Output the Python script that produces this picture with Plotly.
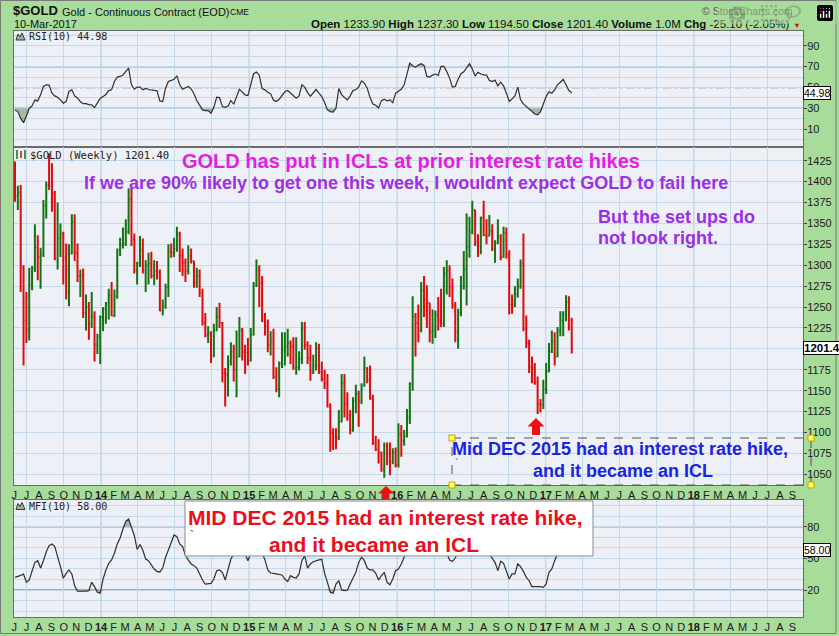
import plotly.graph_objects as go
import pandas as pd

# ---------------- data (weekly) ----------------
WEEK_START = "2013-06-03"

OPEN = [
    1411, 1383, 1387, 1297, 1234, 1223, 1277, 1296, 1322, 1310, 1313, 1372, 1396, 1395, 1387,
    1308, 1333, 1338, 1309, 1268, 1314, 1352, 1315, 1287, 1288, 1243, 1250, 1230, 1238, 1204,
    1215, 1238, 1247, 1254, 1264, 1240, 1263, 1318, 1324, 1326, 1340, 1379, 1331, 1294, 1303, 1318, 1294,
    1300, 1302, 1287, 1293, 1292, 1246, 1252, 1274, 1316, 1315, 1320, 1337, 1311, 1303, 1293, 1311, 1305, 1279,
    1287, 1267, 1231, 1216, 1218, 1192, 1222, 1238, 1231, 1171, 1169, 1185, 1197, 1175, 1191, 1222, 1196,
    1195, 1186, 1217, 1276, 1294, 1279, 1234, 1227, 1205, 1212, 1167, 1152, 1183, 1199, 1202, 1207, 1203,
    1177, 1178, 1188, 1225, 1205, 1189, 1173, 1180, 1201, 1173, 1164, 1159, 1131, 1099, 1095, 1094, 1113, 1159,
    1134, 1121, 1103, 1138, 1146, 1137, 1156, 1177, 1163, 1141, 1088, 1080, 1076, 1056, 1084, 1075, 1065,
    1076, 1061, 1098, 1090, 1096, 1118, 1158, 1239, 1231, 1222, 1270, 1259, 1255, 1220, 1222, 1240, 1235, 1230,
    1290, 1294, 1273, 1252, 1220, 1243, 1275, 1295, 1322, 1340, 1366, 1328, 1323, 1357, 1336, 1335, 1341,
    1320, 1327, 1334, 1310, 1339, 1313, 1253, 1251, 1266, 1275, 1302, 1224, 1207, 1178, 1177, 1160, 1134, 1133,
    1152, 1173, 1197, 1210, 1191, 1222, 1234, 1241, 1256, 1233.9,
]
HIGH = [
    1424, 1395, 1396, 1300, 1268, 1297, 1299, 1349, 1336, 1321, 1378, 1400, 1434, 1422, 1389,
    1375, 1350, 1340, 1326, 1325, 1361, 1361, 1326, 1295, 1296, 1265, 1256, 1268, 1245, 1218,
    1240, 1250, 1256, 1272, 1280, 1271, 1320, 1333, 1345, 1355, 1392, 1392, 1338, 1304, 1335, 1332, 1306,
    1315, 1316, 1306, 1305, 1295, 1259, 1278, 1325, 1326, 1333, 1346, 1340, 1320, 1308, 1324, 1320, 1305, 1297,
    1295, 1272, 1243, 1227, 1221, 1230, 1250, 1255, 1232, 1177, 1192, 1208, 1205, 1222, 1238, 1225, 1205,
    1213, 1225, 1280, 1307, 1300, 1287, 1243, 1235, 1221, 1224, 1178, 1185, 1220, 1220, 1224, 1210, 1214,
    1214, 1197, 1232, 1232, 1209, 1205, 1193, 1208, 1206, 1185, 1175, 1170, 1135, 1105, 1105, 1127, 1170, 1170,
    1148, 1127, 1142, 1157, 1150, 1159, 1191, 1178, 1180, 1145, 1096, 1092, 1077, 1088, 1088, 1088, 1081,
    1082, 1111, 1109, 1103, 1128, 1160, 1263, 1243, 1253, 1280, 1287, 1276, 1255, 1247, 1246, 1262, 1272, 1298,
    1306, 1300, 1284, 1256, 1248, 1287, 1317, 1362, 1358, 1377, 1366, 1337, 1358, 1377, 1355, 1360, 1349,
    1330, 1355, 1337, 1346, 1345, 1318, 1265, 1275, 1284, 1307, 1338, 1240, 1211, 1191, 1183, 1167, 1140, 1163,
    1183, 1207, 1222, 1220, 1226, 1245, 1245, 1264, 1263, 1237.3,
]
LOW = [
    1376, 1366, 1268, 1180, 1207, 1210, 1270, 1292, 1282, 1272, 1310, 1356, 1390, 1364, 1306,
    1295, 1310, 1277, 1259, 1251, 1313, 1305, 1280, 1262, 1237, 1222, 1211, 1225, 1185, 1194,
    1182, 1221, 1230, 1235, 1239, 1238, 1260, 1311, 1320, 1323, 1337, 1323, 1290, 1277, 1298, 1290, 1268,
    1277, 1284, 1276, 1283, 1245, 1240, 1248, 1262, 1309, 1310, 1316, 1292, 1287, 1280, 1289, 1302, 1273, 1273,
    1262, 1228, 1214, 1207, 1183, 1190, 1221, 1225, 1160, 1131, 1143, 1180, 1161, 1142, 1190, 1186, 1170,
    1180, 1185, 1216, 1274, 1250, 1232, 1216, 1196, 1192, 1164, 1148, 1142, 1177, 1180, 1191, 1182, 1175,
    1169, 1174, 1182, 1199, 1182, 1162, 1170, 1174, 1170, 1161, 1152, 1130, 1077, 1079, 1080, 1091, 1112, 1118,
    1114, 1098, 1101, 1123, 1107, 1134, 1155, 1159, 1139, 1085, 1078, 1063, 1053, 1046, 1061, 1049, 1062,
    1058, 1058, 1071, 1084, 1094, 1110, 1150, 1191, 1208, 1220, 1238, 1225, 1208, 1206, 1213, 1222, 1226, 1226,
    1265, 1262, 1248, 1208, 1200, 1239, 1271, 1252, 1309, 1337, 1323, 1310, 1313, 1335, 1325, 1335, 1317,
    1303, 1325, 1306, 1309, 1308, 1241, 1242, 1250, 1261, 1272, 1221, 1201, 1171, 1159, 1157, 1122, 1124, 1128,
    1146, 1172, 1195, 1180, 1190, 1215, 1215, 1233, 1222, 1194.5,
]
CLOSE = [
    1383, 1387, 1297, 1234, 1223, 1277, 1296, 1322, 1310, 1313, 1372, 1396, 1395, 1387, 1308,
    1333, 1338, 1309, 1268, 1314, 1352, 1315, 1287, 1288, 1243, 1250, 1230, 1238, 1204, 1215,
    1238, 1247, 1254, 1264, 1240, 1263, 1318, 1324, 1326, 1340, 1379, 1331, 1294, 1303, 1318, 1294, 1300,
    1302, 1287, 1293, 1292, 1246, 1252, 1274, 1316, 1315, 1320, 1337, 1311, 1303, 1293, 1311, 1305, 1279, 1287,
    1267, 1231, 1216, 1218, 1192, 1222, 1238, 1231, 1171, 1169, 1185, 1197, 1175, 1191, 1222, 1196, 1195,
    1186, 1217, 1276, 1294, 1279, 1234, 1227, 1205, 1212, 1167, 1152, 1183, 1199, 1202, 1207, 1203, 1177,
    1178, 1188, 1225, 1205, 1189, 1173, 1180, 1201, 1173, 1164, 1159, 1131, 1099, 1095, 1094, 1113, 1159, 1134,
    1121, 1103, 1138, 1146, 1137, 1156, 1177, 1163, 1141, 1088, 1080, 1076, 1056, 1084, 1075, 1065, 1076,
    1061, 1098, 1090, 1096, 1118, 1158, 1239, 1231, 1222, 1270, 1259, 1255, 1220, 1222, 1240, 1235, 1230, 1290,
    1294, 1273, 1252, 1220, 1243, 1275, 1295, 1322, 1340, 1366, 1328, 1323, 1357, 1336, 1335, 1341, 1320,
    1327, 1334, 1310, 1339, 1313, 1253, 1251, 1266, 1275, 1302, 1224, 1207, 1178, 1177, 1160, 1134, 1133, 1152,
    1173, 1197, 1210, 1191, 1222, 1234, 1241, 1256, 1226, 1201.4,
]
RSI10 = [
    28.6, 27, 20.5, 16.4, 22.8, 30, 32.4, 38, 37.2, 43,
    51, 52.6, 52.3, 44.6, 42, 40.7, 38.2, 35, 36.6, 46.2,
    47.8, 42, 40, 36.6, 34.6, 34.6, 33.7, 33.4, 30.8, 35,
    39.5, 41.4, 43.3, 47.1, 47.8, 55.8, 60, 60.6, 61.9, 65.4,
    68.6, 52.6, 48.4, 50.4, 50.4, 47.8, 49.1, 48.1, 47.8, 47.1,
    46.8, 37.2, 36.6, 49.4, 55.8, 56.8, 58, 61.2, 52.6, 48.4,
    49.4, 51, 48.8, 44, 37.6, 32.4, 28.6, 28, 28, 25.4,
    31.1, 40.7, 40.4, 31.8, 31.1, 32.4, 37.6, 34, 42, 48.4,
    45.9, 43, 42.3, 52.6, 63.2, 64.8, 61.6, 49.1, 47.8, 45.5,
    44, 37.9, 36.6, 38.8, 43, 45.9, 47.1, 44.6, 41.4, 39.8,
    42, 52.6, 50.4, 45.2, 41.7, 44.6, 48.1, 44.6, 41.4,
    35.6, 28.6, 27, 26.4, 30.2, 49.1, 43, 40.4, 38.2, 42,
    47.1, 48.1, 50.4, 56.4, 54.2, 49.4, 40.4, 34.3, 33, 30.5,
    37.5, 38.8, 37.2, 38.2, 35.6, 44.6, 46.8, 48.4, 52.6, 64.5,
    73.4, 70.9, 69.3, 71.5, 72.8, 71.2, 60.6, 60, 61.9, 62.9,
    61.6, 70.2, 70.2, 65.4, 59, 50.4, 51, 58, 63.2, 65.1,
    68.6, 72.8, 67.7, 61.2, 64.5, 62.9, 62.2, 61.9, 56.8, 55.8,
    57.1, 51.6, 55.1, 51.6, 44.6, 36.6, 39.1, 42, 50.4, 38.2,
    34.3, 31.8, 29.2, 27, 24.7, 23.8, 27, 34.3, 41.4, 45.9,
    44.6, 47.8, 52.6, 55.1, 58, 52.6, 47.1, 44.98,
]
MFI10 = [
    32, 32.7, 33.9, 35.2, 27.3, 29.5, 39, 46.2, 47.8, 40.8,
    47.8, 56.3, 62, 63.6, 61.1, 52.6, 42.1, 31.1, 35.8, 39,
    35.2, 24.1, 18.8, 18.8, 18.5, 18.8, 19.4, 27.3, 23.2, 17.9,
    16.9, 30.4, 39, 45.3, 48.5, 54.8, 63.6, 69.3, 77.8, 85.1,
    87.3, 79.6, 71.7, 58.4, 63.2, 57.6, 49.4, 47.8, 44, 39.9,
    37.7, 37.1, 40.8, 51, 57.9, 64.9, 72.2, 70.6, 63.6, 61.1,
    52.6, 48.5, 44.7, 43.1, 40.8, 35.2, 29.5, 25.7, 25.7, 26.3,
    30.4, 38.3, 39, 36.8, 29.5, 39.9, 49.4, 54, 56, 58,
    57, 54, 47.8, 55, 62, 66, 63, 55, 48.5, 39,
    36.1, 35.8, 35.2, 34.9, 34.2, 30.4, 28, 33.6, 32, 31.4,
    35.2, 47.8, 52.6, 40.8, 44.7, 46.8, 47.8, 48.5, 49,
    35.8, 27.3, 17.9, 16.9, 25.7, 28.8, 20, 19.4, 19.7, 25.7,
    32, 36.8, 46.2, 51, 47.8, 40.8, 39, 39, 35.8, 29.5,
    33.6, 36.8, 27.3, 25, 30.4, 38.3, 39.9, 44.7, 51, 56,
    60, 66, 72, 74, 70, 66, 62, 58, 60, 62,
    58, 64, 62, 56, 48.5, 47.2, 50.3, 56, 60, 64,
    66, 70, 66, 62, 60, 58, 57, 55, 54, 50.3,
    46.2, 38.3, 47.2, 45.3, 38.3, 30.4, 35.2, 35.2, 44.7, 42.1,
    37.7, 32, 28.8, 23.2, 23.2, 23.5, 23.2, 22.5, 25.7, 36.8,
    39.9, 47.8, 54, 58, 62, 64, 60, 58,
]
MONTH_LETTERS = ["J", "F", "M", "A", "M", "J", "J", "A", "S", "O", "N", "D"]
RSI_TICKS = [10, 30, 50, 70, 90]
PRICE_TICKS = [1050, 1075, 1100, 1125, 1150, 1175, 1200, 1225, 1250, 1275,
               1300, 1325, 1350, 1375, 1400, 1425]
PRICE_TICK_TEXT = ["1050", "1075", "1100", "1125", "1150", "1175", "", "1225", "1250",
                   "1275", "1300", "1325", "1350", "1375", "1400", "1425"]
MFI_TICKS = [20, 50, 80]
YEAR_STARTS = ["2014-01-01", "2015-01-01", "2016-01-01", "2017-01-01", "2018-01-01"]

# ---------------- geometry / styling ----------------
W, H = 839, 636
PL, PR, PT, PB = 14, 803, 31, 617


def px(x, y):
    return (x - PL) / (PR - PL), (PB - y) / (PB - PT)


GREEN_BG = "#a8dc9a"
PANEL_BG = "#eef0f7"
GRID = "#c4d9ec"
YEARGRID = "#a9c6e2"
BAR_UP = "#137313"
BAR_DN = "#dd0b0b"
SHADE = "rgba(110,140,100,0.55)"

dates = pd.date_range(WEEK_START, periods=len(CLOSE), freq="7D")
n = len(dates)
X_RANGE = ["2013-05-31 12:00", "2018-09-27"]

tick_dates = pd.date_range("2013-06-01", "2018-09-01", freq="MS")
tick_text = [f"<b>{d.year % 100}</b>" if d.month == 1 else MONTH_LETTERS[d.month - 1]
             for d in tick_dates]

fig = go.Figure()


def add_osc(values, lo, hi, xa, ya):
    fig.add_trace(go.Scatter(x=dates, y=[lo] * n, xaxis=xa, yaxis=ya, mode="lines",
                             line=dict(width=0), hoverinfo="skip", showlegend=False))
    fig.add_trace(go.Scatter(x=dates, y=[min(v, lo) for v in values], xaxis=xa, yaxis=ya,
                             mode="lines", line=dict(width=0), fill="tonexty",
                             fillcolor=SHADE, hoverinfo="skip", showlegend=False))
    fig.add_trace(go.Scatter(x=dates, y=[hi] * n, xaxis=xa, yaxis=ya, mode="lines",
                             line=dict(width=0), hoverinfo="skip", showlegend=False))
    fig.add_trace(go.Scatter(x=dates, y=[max(v, hi) for v in values], xaxis=xa, yaxis=ya,
                             mode="lines", line=dict(width=0), fill="tonexty",
                             fillcolor=SHADE, hoverinfo="skip", showlegend=False))
    fig.add_trace(go.Scatter(x=dates, y=values, xaxis=xa, yaxis=ya, mode="lines",
                             line=dict(color="#2f2f2f", width=1.2), hoverinfo="skip",
                             showlegend=False))


add_osc(RSI10, 30, 70, "x", "y")

fig.add_trace(go.Ohlc(x=dates, open=OPEN, high=HIGH, low=LOW, close=CLOSE,
                      xaxis="x2", yaxis="y2", tickwidth=0.4,
                      increasing=dict(line=dict(color=BAR_UP, width=2)),
                      decreasing=dict(line=dict(color=BAR_DN, width=2)),
                      hoverinfo="skip", showlegend=False))

add_osc(MFI10, 20, 80, "x3", "y3")

d_rsi_bot = px(0, 147)[1]
d_price_bot = px(0, 485)[1]
d_mfi_top = px(0, 499.5)[1]


def xaxis_cfg(anchor, labels):
    return dict(type="date", range=X_RANGE, anchor=anchor, domain=[0, 1],
                tickmode="array", tickvals=tick_dates, ticktext=tick_text, tickangle=0,
                showticklabels=labels, ticks="", showgrid=False, zeroline=False,
                automargin=False,
                tickfont=dict(family="Arial", size=11, color="#1a1a1a"),
                showline=True, linecolor="#6a6a6a", linewidth=1, mirror=True,
                rangeslider=dict(visible=False), fixedrange=True,
                minor=dict(dtick="M3", tick0="2013-01-01", showgrid=True,
                           gridcolor=GRID, gridwidth=1, ticks=""))


def yaxis_cfg(anchor, dom, rng, ticks, text, minor_dtick):
    cfg = dict(anchor=anchor, domain=dom, range=rng, side="right",
               tickmode="array", tickvals=ticks, ticktext=text, ticks="outside", ticklen=3,
               tickcolor="#444", tickfont=dict(family="Arial", size=11, color="#1a1a1a"),
               ticklabelstandoff=-2, automargin=False,
               showgrid=True, gridcolor=GRID, gridwidth=1, zeroline=False,
               showline=True, linecolor="#6a6a6a", linewidth=1, mirror=True,
               fixedrange=True)
    if minor_dtick:
        cfg["minor"] = dict(dtick=minor_dtick, tick0=0, showgrid=True, gridcolor=GRID,
                            gridwidth=1, ticks="")
    return cfg


fig.update_layout(
    width=W, height=H, autosize=False,
    margin=dict(l=PL, r=W - PR, t=PT, b=H - PB, pad=0, autoexpand=False),
    paper_bgcolor=GREEN_BG, plot_bgcolor=PANEL_BG,
    showlegend=False,
    xaxis=xaxis_cfg("y", False),
    xaxis2=xaxis_cfg("y2", True),
    xaxis3=xaxis_cfg("y3", True),
    yaxis=yaxis_cfg("x", [d_rsi_bot, 1], [-6.9, 104.1], RSI_TICKS,
                    [str(v) for v in RSI_TICKS], 10),
    yaxis2=yaxis_cfg("x2", [d_price_bot, d_rsi_bot], [1037.2, 1441.4], PRICE_TICKS,
                     PRICE_TICK_TEXT, None),
    yaxis3=yaxis_cfg("x3", [0, d_mfi_top], [-5.6, 105.8], MFI_TICKS,
                     [str(v) for v in MFI_TICKS], 10),
)

shapes = []
# reference lines
for xa, ya, val, dash in [("x", "y", 70, "solid"), ("x", "y", 30, "solid"),
                          ("x", "y", 50, "dashdot"),
                          ("x3", "y3", 80, "solid"), ("x3", "y3", 20, "solid")]:
    shapes.append(dict(type="line", xref=xa, x0=X_RANGE[0], x1=X_RANGE[1],
                       yref=ya, y0=val, y1=val, layer="below",
                       line=dict(color="#5a5a5a" if dash == "solid" else "#777",
                                 width=1.2, dash=dash)))
# year grid lines
for xa, ya, rng in [("x", "y", [-6.9, 104.1]), ("x2", "y2", [1037.2, 1441.4]),
                    ("x3", "y3", [-5.6, 105.8])]:
    for ys in YEAR_STARTS:
        shapes.append(dict(type="line", xref=xa, x0=ys, x1=ys, yref=ya,
                           y0=rng[0], y1=rng[1], layer="below",
                           line=dict(color=YEARGRID, width=1)))


def rect_px(x0, y0, x1, y1, **kw):
    a = px(x0, y0)
    b = px(x1, y1)
    d = dict(type="rect", xref="paper", yref="paper", x0=a[0], y0=b[1], x1=b[0], y1=a[1])
    d.update(kw)
    return d


def poly_px(points, color, closed=True, line=None):
    path = "M " + " L ".join(f"{px(x, y)[0]:.5f},{px(x, y)[1]:.5f}" for x, y in points)
    if closed:
        path += " Z"
    return dict(type="path", xref="paper", yref="paper", path=path,
                fillcolor=color if closed else None,
                line=line or dict(width=0), layer="above")


# red arrows
shapes.append(poly_px([(386, 486), (394, 493.5), (389.5, 493.5), (389.5, 499.5),
                       (382.5, 499.5), (382.5, 493.5), (378, 493.5)], "#ee1111"))
shapes.append(poly_px([(536, 418), (544.5, 426.5), (540, 426.5), (540, 435),
                       (532, 435), (532, 426.5), (527.5, 426.5)], "#ee1111"))
# small panel icons
for top in (32, 501.5):
    shapes.append(poly_px([(16, top + 8), (18, top + 2), (20, top + 5), (22, top + 1),
                           (25, top + 8)], "#9fb59a",
                          line=dict(color="#333", width=1)))
shapes.append(poly_px([(17, 150), (17, 159)], None, closed=False,
                      line=dict(color=BAR_UP, width=1.5)))
shapes.append(poly_px([(21, 151), (21, 158)], None, closed=False,
                      line=dict(color=BAR_DN, width=1.5)))
shapes.append(poly_px([(25, 150), (25, 159)], None, closed=False,
                      line=dict(color=BAR_UP, width=1.5)))
# blue dashed text box + handles
shapes.append(rect_px(452, 438, 811, 485, line=dict(color="#555", width=1, dash="dash"),
                      layer="above"))
for cx, cy in [(452, 438), (811, 438), (452, 485), (811, 485)]:
    shapes.append(rect_px(cx - 3, cy - 3, cx + 3, cy + 3, line=dict(color="#c9a400", width=1),
                          fillcolor="#ffff55", layer="above"))
# white red-text box over MFI
shapes.append(rect_px(185, 501, 593, 556, line=dict(color="#8a8a8a", width=1),
                      fillcolor="#ffffff", layer="above"))
# outer frame
shapes.append(rect_px(0.5, 0.5, 836, 633.5, line=dict(color="#7a7a7a", width=1),
                      layer="above"))

fig.update_layout(shapes=shapes)

ann = []


def text(s, x, y, size, color="#111", anchor="left", family="Arial", bold=False):
    xp, yp = px(x, y)
    ann.append(dict(text=f"<b>{s}</b>" if bold else s, x=xp, y=yp, xref="paper", yref="paper",
                    xanchor=anchor, yanchor="middle", showarrow=False, borderpad=0,
                    font=dict(family=family, size=size, color=color)))


# header
text("$GOLD", 12, 11, 13, "#111", bold=True)
text("Gold - Continuous Contract (EOD)", 61, 11.5, 11, "#111")
text("CME", 229, 12, 8.5, "#111")
text("10-Mar-2017", 13, 24, 11, "#111")
text("<b>Open</b> 1233.90 <b>High</b> 1237.30 <b>Low</b> 1194.50 <b>Close</b> 1201.40 "
     "<b>Volume</b> 1.0M <b>Chg</b> -25.10 (-2.05%)", 791, 24, 11.5, "#111", anchor="right")
text("▼", 797, 25, 8, "#cc1111", anchor="center")
text("© StockCharts.com", 794, 10.5, 10.5, "#555", anchor="right")

# panel legends
text("RSI(10) 44.98", 28, 36.5, 10, "#222", family="DejaVu Sans Mono")
text("$GOLD (Weekly) 1201.40", 29, 155, 10.5, "#222", family="DejaVu Sans Mono")
text("MFI(10) 58.00", 28, 506.5, 10, "#222", family="DejaVu Sans Mono")

# commentary
text("GOLD has put in ICLs at prior interest rate hikes", 410.5, 161, 20, "#e21ee2",
     anchor="center", bold=True)
text("If we are 90% likely to get one this week, I wouldnt expect GOLD to fail here",
     405.5, 182.5, 18, "#9b30e6", anchor="center", bold=True)
text("But the set ups do", 597, 217, 18, "#9a2ee6", bold=True)
text("not look right.", 597, 238, 18, "#9a2ee6", bold=True)
text("Mid DEC 2015 had an interest rate hike,", 620, 449, 18, "#1b24dd",
     anchor="center", bold=True)
text("and it became an ICL", 622.5, 470.5, 18, "#1b24dd", anchor="center", bold=True)
text("`", 454, 463, 10, "#333")
text("MID DEC 2015 had an interest rate hike,", 385, 517.5, 21, "#e8101a",
     anchor="center", bold=True)
text("and it became an ICL", 374, 544, 21, "#e8101a", anchor="center", bold=True)
text("`", 189, 536, 12, "#333")

# current value tags
for val, yref, s, size in [(44.98, "y", "44.98", 10.5), (1201.4, "y2", "<b>1201.4</b>", 11.5),
                           (58.0, "y3", "58.00", 10.5)]:
    ann.append(dict(text=s, x=1.0, xref="paper", y=val, yref=yref, xanchor="left",
                    yanchor="middle", showarrow=False, bgcolor="#ffffff",
                    bordercolor="#000", borderwidth=1, borderpad=0,
                    font=dict(family="Arial", size=size, color="#000")))

fig.update_layout(annotations=ann)

fig.write_html("out.html",
               post_script="document.body.style.margin='0';document.body.style.overflow='hidden';")
